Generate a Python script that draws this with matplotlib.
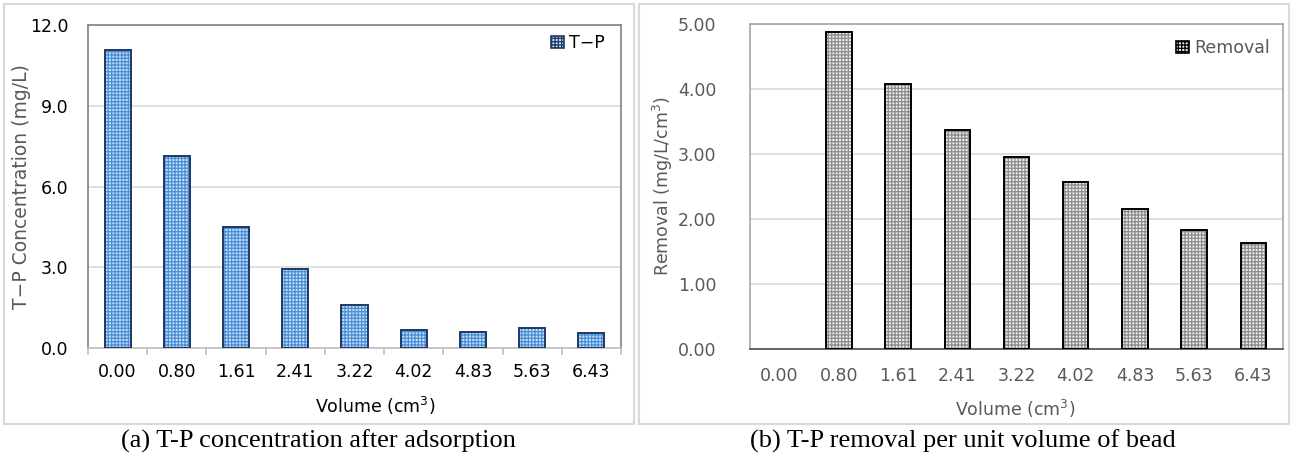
import matplotlib
matplotlib.use('Agg')
import matplotlib.pyplot as plt
from matplotlib.patches import Rectangle
import numpy as np

# data
volumes = ['0.00', '0.80', '1.61', '2.41', '3.22', '4.02', '4.83', '5.63', '6.43']
tp_conc = [11.08, 7.14, 4.50, 2.94, 1.58, 0.68, 0.58, 0.74, 0.55]
removal = [0.0, 4.87, 4.07, 3.37, 2.95, 2.57, 2.15, 1.83, 1.63]

plt.rcParams['font.family'] = ['DejaVu Sans']
plt.rcParams['hatch.linewidth'] = 0.9

W, H = 1291, 466
fig = plt.figure(figsize=(W / 100, H / 100), dpi=100)


def px_axes(left, top, right, bottom):
    return fig.add_axes([left / W, (H - bottom) / H, (right - left) / W, (bottom - top) / H])


# panel frames
for x0, x1 in [(4, 634), (639, 1289)]:
    fig.patches.append(Rectangle((x0 / W, (H - 424) / H), (x1 - x0) / W, 420 / H,
                                 transform=fig.transFigure, fill=False,
                                 edgecolor='#d9d9d9', linewidth=1.5))

x = np.arange(len(volumes))
tick_fs = 12.5

blue_face, blue_hatch = '#c2ddf5', '#4a8fd6'
gray_face, gray_hatch = '#ececec', '#8c8c8c'

# ---- (a) T-P concentration
ax1 = px_axes(88, 25, 621, 348)
ax1.bar(x, tp_conc, width=0.44, color=blue_face, edgecolor=blue_hatch, hatch='+++++', linewidth=0, zorder=2)
ax1.bar(x, tp_conc, width=0.44, fill=False, edgecolor='#1f3864', linewidth=1.4, zorder=3)
ax1.set_xlim(-0.5, len(volumes) - 0.5)
ax1.set_ylim(0, 12)
ax1.set_yticks([0, 3, 6, 9, 12])
ax1.set_yticklabels(['0.0', '3.0', '6.0', '9.0', '12.0'])
ax1.set_xticks(x)
ax1.set_xticklabels(volumes)
ax1.set_xticks(np.arange(len(volumes) + 1) - 0.5, minor=True)
ax1.tick_params(axis='x', which='major', length=0, pad=11, labelsize=tick_fs, colors='black')
ax1.tick_params(axis='x', which='minor', length=5, color='#bfbfbf', width=1.2)
ax1.tick_params(axis='y', length=0, pad=14, labelsize=tick_fs, colors='black')
ax1.grid(axis='y', color='#d9d9d9', linewidth=1.2, zorder=0)
ax1.set_axisbelow(True)
for s in ['top', 'right', 'left']:
    ax1.spines[s].set_color('#808080')
    ax1.spines[s].set_linewidth(1.2)
ax1.spines['bottom'].set_color('#bfbfbf')
ax1.spines['bottom'].set_linewidth(1.2)
ax1.set_xlabel('Volume (cm$^3$)', fontsize=12.5)
ax1.xaxis.set_label_coords(0.538, -0.146)
ax1.set_ylabel('T\u2212P Concentration (mg/L)', fontsize=13.5, color='#595959')
ax1.yaxis.set_label_coords(-0.107, 0.5)
h = [Rectangle((0, 0), 1, 1, facecolor=blue_face, edgecolor='#1f3864', hatch='+++++', linewidth=1.2)]
ax1.legend(h, ['T\u2212P'], loc='center right', bbox_to_anchor=(0.97, 0.944), frameon=False,
           fontsize=12.5, handlelength=0.75, handleheight=0.75, handletextpad=0.3,
           borderaxespad=0, borderpad=0)

# ---- (b) removal per unit volume
ax2 = px_axes(750, 24, 1283, 349)
ax2.bar(x, removal, width=0.43, color=gray_face, edgecolor=gray_hatch, hatch='+++++', linewidth=0, zorder=2)
ax2.bar(x[1:], removal[1:], width=0.43, fill=False, edgecolor='black', linewidth=1.4, zorder=3)
ax2.set_xlim(-0.5, len(volumes) - 0.5)
ax2.set_ylim(0, 5)
ax2.set_yticks([0, 1, 2, 3, 4, 5])
ax2.set_yticklabels(['%.2f' % v for v in [0, 1, 2, 3, 4, 5]])
ax2.set_xticks(x)
ax2.set_xticklabels(volumes)
ax2.tick_params(axis='x', length=0, pad=13, labelsize=tick_fs, colors='#595959')
ax2.tick_params(axis='y', length=0, pad=24, labelsize=tick_fs, colors='#595959')
ax2.grid(axis='y', color='#d9d9d9', linewidth=1.2, zorder=0)
ax2.set_axisbelow(True)
for s in ['top', 'right', 'left']:
    ax2.spines[s].set_color('#a6a6a6')
    ax2.spines[s].set_linewidth(1.2)
ax2.spines['bottom'].set_color('#595959')
ax2.spines['bottom'].set_linewidth(1.3)
ax2.set_xlabel('Volume (cm$^3$)', fontsize=12.5, color='#595959')
ax2.xaxis.set_label_coords(0.497, -0.151)
ax2.set_ylabel('Removal (mg/L/cm$^3$)', fontsize=12.5, color='#595959')
ax2.yaxis.set_label_coords(-0.141, 0.5)
h2 = [Rectangle((0, 0), 1, 1, facecolor=gray_face, edgecolor='black', hatch='+++++', linewidth=1.2)]
ax2.legend(h2, ['Removal'], loc='center right', bbox_to_anchor=(0.976, 0.926), frameon=False,
           fontsize=12.5, labelcolor='#595959', handlelength=0.75, handleheight=0.75,
           handletextpad=0.3, borderaxespad=0, borderpad=0)

# captions
fig.text(318 / W, 1 - 441 / H, '(a) T-P concentration after adsorption',
         family='Liberation Serif', fontsize=19, ha='center', va='center')
fig.text(963 / W, 1 - 441 / H, '(b) T-P removal per unit volume of bead',
         family='Liberation Serif', fontsize=19, ha='center', va='center')

fig.savefig('out.png', dpi=100)
